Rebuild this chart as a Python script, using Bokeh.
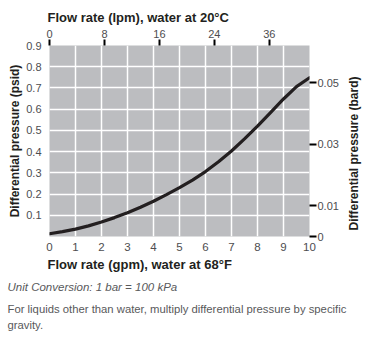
import math
from bokeh.plotting import figure
from bokeh.models import (LinearAxis, Range1d, FixedTicker, Title, Label, ColumnDataSource)
from bokeh.embed import file_html
from bokeh.resources import INLINE

# ---- data ----
gpm = [0, 0.5, 1, 1.5, 2, 2.5, 3, 3.5, 4, 4.5, 5, 5.5, 6, 6.5, 7, 7.5, 8, 8.5, 9, 9.5, 10]
psid = [0.013, 0.023, 0.035, 0.05, 0.068, 0.089, 0.112, 0.138, 0.166, 0.197, 0.23,
        0.266, 0.306, 0.352, 0.403, 0.46, 0.52, 0.584, 0.648, 0.706, 0.748]
gpm_ticks = [0, 1, 2, 3, 4, 5, 6, 7, 8, 9, 10]
psid_ticks = [0.1, 0.2, 0.3, 0.4, 0.5, 0.6, 0.7, 0.8, 0.9]
lpm_ticks = [0, 8, 16, 24, 32]
lpm_labels = ["0", "8", "16", "24", "36"]
bar_ticks = [0, 0.01, 0.03, 0.05]
bar_labels = ["0", "0.01", "0.03", "0.05"]

top_title = "Flow rate (lpm), water at 20\u00b0C"
bottom_title = "Flow rate (gpm), water at 68\u00b0F"
left_title = "Differential pressure (psid)"
right_title = "Differential pressure (bard)"
notes = ["Unit Conversion: 1 bar = 100 kPa",
         "For liquids other than water, multiply differential pressure by specific",
         "gravity."]

LPM_PER_GPM = 3.785
PSI_PER_BAR = 14.5038
X_MAX = 10
Y_MAX = 0.9

FONT = "Liberation Sans"
TICK_COLOR = "#4d4d4f"
TITLE_COLOR = "#231f20"
NOTE_COLOR = "#58595b"

p = figure(width=367, height=342, output_backend="svg", toolbar_location=None,
           x_range=Range1d(0, X_MAX), y_range=Range1d(0, Y_MAX),
           min_border_left=49, min_border_right=58, min_border_top=45,
           min_border_bottom=106, x_axis_location=None, y_axis_location=None)
p.extra_x_ranges = {"lpm": Range1d(0, X_MAX * LPM_PER_GPM)}
p.extra_y_ranges = {"bar": Range1d(0, Y_MAX / PSI_PER_BAR)}

p.background_fill_color = "#bcbdc0"
p.border_fill_color = "white"
p.outline_line_color = None

p.xgrid.ticker = FixedTicker(ticks=gpm_ticks[1:-1])
p.ygrid.ticker = FixedTicker(ticks=psid_ticks[:-1])
for g in (p.xgrid, p.ygrid):
    g.grid_line_color = "white"
    g.grid_line_width = 1.5


def style(ax, size="11px"):
    ax.axis_line_color = None
    ax.minor_tick_line_color = None
    ax.major_label_text_font = FONT
    ax.major_label_text_font_size = size
    ax.major_label_text_color = TICK_COLOR
    ax.axis_label_text_font = FONT
    ax.axis_label_text_font_style = "bold"
    ax.axis_label_text_font_size = "12px"
    ax.axis_label_text_color = TITLE_COLOR


bottom = LinearAxis(ticker=FixedTicker(ticks=gpm_ticks))
style(bottom, "11.5px")
bottom.major_tick_line_color = None
bottom.major_label_standoff = 0
p.add_layout(bottom, "below")

left = LinearAxis(ticker=FixedTicker(ticks=psid_ticks), axis_label=left_title)
style(left)
left.major_tick_line_color = None
left.major_label_standoff = 2
left.axis_label_standoff = 1
p.add_layout(left, "left")

top = LinearAxis(x_range_name="lpm", ticker=FixedTicker(ticks=lpm_ticks))
style(top)
top.major_label_overrides = {t: l for t, l in zip(lpm_ticks, lpm_labels)}
top.major_tick_line_color = "black"
top.major_tick_line_width = 2
top.major_tick_in = 0
top.major_tick_out = 6
top.major_label_standoff = 2
p.add_layout(top, "above")

right = LinearAxis(y_range_name="bar", ticker=FixedTicker(ticks=bar_ticks))
style(right)
right.major_label_overrides = {t: l for t, l in zip(bar_ticks, bar_labels)}
right.major_tick_line_color = "black"
right.major_tick_line_width = 2
right.major_tick_in = 0
right.major_tick_out = 7
right.major_label_standoff = 1
p.add_layout(right, "right")

# right title, reading bottom-to-top, in its own side panel
p.add_layout(Label(x=12, y=6, x_units="screen", y_units="screen", text=right_title,
                   angle=math.pi / 2, text_font=FONT, text_font_size="12px",
                   text_font_style="bold", text_color=TITLE_COLOR,
                   text_align="left", text_baseline="alphabetic"), "right")

src = ColumnDataSource(dict(x=gpm, y=psid))
p.line("x", "y", source=src, line_color="#231f20", line_width=3.2,
       line_cap="round", line_join="round")


def title(text, side, size, style_="bold", color=TITLE_COLOR, offset=-2, standoff=0):
    t = Title(text=text, align="left", offset=offset, standoff=standoff,
              text_font=FONT, text_font_size=size, text_font_style=style_,
              text_color=color)
    p.add_layout(t, side)


title(top_title, "above", "13px", standoff=4)
title(bottom_title, "below", "13px", standoff=2)
title(notes[0], "below", "11.5px", "italic", NOTE_COLOR, offset=-42, standoff=12)
title(notes[1], "below", "11.3px", "normal", NOTE_COLOR, offset=-42, standoff=4)
title(notes[2], "below", "11.3px", "normal", NOTE_COLOR, offset=-42, standoff=0)

open("out.html", "w").write(file_html(p, INLINE))
